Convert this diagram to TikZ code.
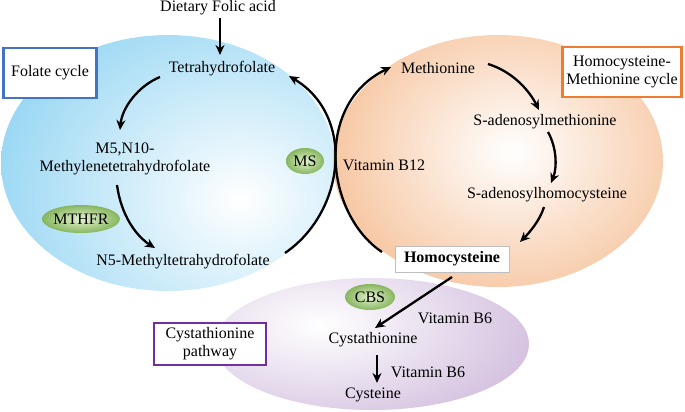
\documentclass[tikz,border=0pt]{standalone}
\usepackage{fontspec}
\setmainfont{Liberation Serif}
\usetikzlibrary{arrows.meta,shapes.geometric}
\definecolor{bluecyc}{RGB}{122,203,240}
\definecolor{orangecyc}{RGB}{242,166,108}
\definecolor{purplecyc}{RGB}{196,170,212}
\definecolor{greenout}{RGB}{135,182,95}
\definecolor{greenin}{RGB}{228,242,208}
\definecolor{boxblue}{RGB}{68,114,196}
\definecolor{boxorange}{RGB}{237,125,49}
\definecolor{boxpurple}{RGB}{112,48,160}
\definecolor{boxgray}{RGB}{190,190,190}
\begin{document}
\begin{tikzpicture}[x=1pt,y=-1pt,
  font=\fontsize{16}{18}\selectfont,
  txt/.style={inner sep=0pt, align=center},
  conn/.style={line width=2.3pt, -{Stealth[length=10pt,width=9pt]}},
  enz/.style={ellipse, inner sep=0pt, inner color=greenin, outer color=greenout},
  labbox/.style={draw, line width=2.5pt, fill=white, align=center, inner sep=0pt}]
\useasboundingbox (0,0) rectangle (685,412);
% background ellipses
\begin{scope}
  \clip (372,344) ellipse (157 and 66);
  \shade[inner color=white, outer color=purplecyc] (320,325) ellipse (300 and 150);
\end{scope}
\begin{scope}
  \clip (168,163) ellipse (167 and 128);
  \shade[inner color=white, outer color=bluecyc] (240,200) ellipse (330 and 280);
\end{scope}
\begin{scope}
  \clip (498,161) ellipse (165 and 126);
  \shade[inner color=white, outer color=orangecyc] (512,152) ellipse (290 and 240);
\end{scope}
% label boxes
\node[labbox, draw=boxblue, minimum width=93pt, minimum height=50pt] (fcbox) at (50,73) {Folate cycle};
\node[labbox, draw=boxorange, minimum width=119pt, minimum height=50pt] (hmbox) at (622,72) {Homocysteine-\\Methionine cycle};
\node[labbox, draw=boxpurple, minimum width=112pt, minimum height=42pt] (cpbox) at (210,344) {Cystathionine\\pathway};
% texts
\node[txt] (diet) at (218,8) {Dietary Folic acid};
\node[txt] (thf) at (222,69) {Tetrahydrofolate};
\node[txt] (mthf) at (125,159) {M5,N10-\\Methylenetetrahydrofolate};
\node[txt] (n5) at (183,262) {N5-Methyltetrahydrofolate};
\node[txt] (met) at (438,68) {Methionine};
\node[txt] (sam) at (545,122) {S-adenosylmethionine};
\node[txt] (sah) at (547,195) {S-adenosylhomocysteine};
\node[txt] (b12) at (384,165) {Vitamin B12};
\node[draw=boxgray, line width=0.8pt, fill=white, minimum width=114pt, minimum height=26pt, inner sep=0pt, font=\fontsize{16}{18}\selectfont\bfseries] (hcy) at (452,259) {Homocysteine};
\node[txt] (cysta) at (373,340) {Cystathionine};
\node[txt] (cys) at (373,395) {Cysteine};
\node[txt] (b6a) at (455,318) {Vitamin B6};
\node[txt] (b6b) at (428,372) {Vitamin B6};
% enzymes
\node[enz, minimum width=78pt, minimum height=28pt] (mthfr) at (81,219) {MTHFR};
\node[enz, minimum width=38pt, minimum height=26pt] (ms) at (305,161) {MS};
\node[enz, minimum width=50pt, minimum height=26pt] (cbs) at (370,297) {CBS};
% connector end points
\coordinate (dietend) at (220,55);
\coordinate (thfA) at (160,77);
\coordinate (mthfA) at (120,130);
\coordinate (mthfB) at (117,185);
\coordinate (n5A) at (155,248);
\coordinate (n5B) at (285,253);
\coordinate (thfB) at (289,76);
\coordinate (hcyA) at (382,252);
\coordinate (metA) at (391,67);
\coordinate (metB) at (488,64);
\coordinate (samA) at (539,110);
\coordinate (samB) at (548,132);
\coordinate (sahA) at (551,183);
\coordinate (sahB) at (544,207);
\coordinate (hcyB) at (520,242);
\coordinate (hcyC) at (452,277);
\coordinate (cystaA) at (375,328);
\coordinate (cystaB) at (377,355);
\coordinate (cysA) at (377,383);
% connectors
\draw[conn] (diet.south -| dietend) ++(0,3) -- (dietend);
\draw[conn] (thfA) .. controls (138,86) and (122,108) .. (mthfA);
\draw[conn] (mthfB) .. controls (121,215) and (136,236) .. (n5A);
\draw[conn] (n5B) .. controls (345,212) and (356,116) .. (thfB);
\draw[conn] (hcyA) .. controls (326,215) and (313,105) .. (metA);
\draw[conn] (metB) .. controls (514,72) and (530,92) .. (samA);
\draw[conn] (samB) .. controls (557,148) and (557,168) .. (sahA);
\draw[conn] (sahB) .. controls (540,220) and (530,232) .. (hcyB);
\draw[conn] (hcyC) -- (cystaA);
\draw[conn] (cystaB) -- (cysA);
\end{tikzpicture}
\end{document}
